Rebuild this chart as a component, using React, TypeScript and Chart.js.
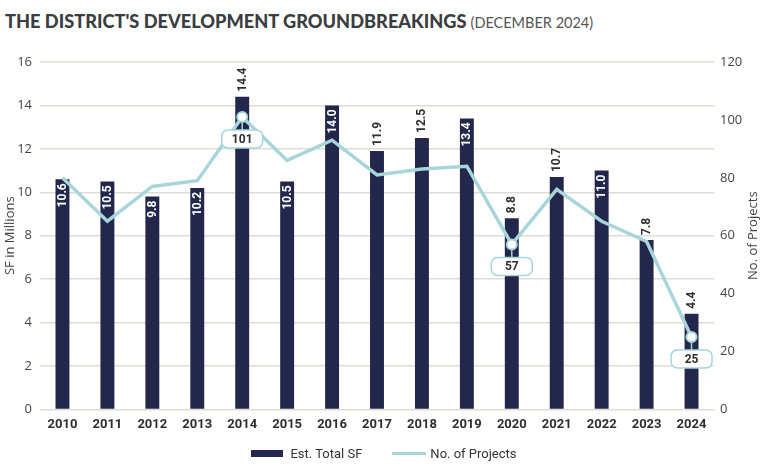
import React, { useEffect, useRef } from "react";
import { Chart, registerables } from "chart.js";

Chart.register(...registerables);

const years = ["2010","2011","2012","2013","2014","2015","2016","2017","2018","2019","2020","2021","2022","2023","2024"];
const totalSF = [10.6, 10.5, 9.8, 10.2, 14.4, 10.5, 14.0, 11.9, 12.5, 13.4, 8.8, 10.7, 11.0, 7.8, 4.4];
const projects = [80, 65, 77, 79, 101, 86, 93, 81, 83, 84, 57, 76, 65, 58, 25];
const leftTicks = [0, 2, 4, 6, 8, 10, 12, 14, 16];
const rightTicks = [0, 20, 40, 60, 80, 100, 120];
const calloutYears = ["2014", "2020", "2024"];
const insideLabelYears = ["2010","2011","2012","2013","2015","2016","2019","2022"];

const NAVY = "#22274b";
const TEAL = "#a8d5da";
const GRID = "#dddcd5";
const TICK = "#454545";

const labelPlugin = {
  id: "valueLabels",
  afterDatasetsDraw(chart: any) {
    const ctx = chart.ctx;
    const barMeta = chart.getDatasetMeta(1);
    const lineMeta = chart.getDatasetMeta(0);
    ctx.save();
    ctx.font = "bold 12px Roboto, 'DejaVu Sans', sans-serif";
    barMeta.data.forEach((bar: any, i: number) => {
      const txt = totalSF[i].toFixed(1);
      const inside = insideLabelYears.includes(years[i]);
      ctx.save();
      ctx.translate(bar.x, bar.y);
      ctx.rotate(-Math.PI / 2);
      ctx.textBaseline = "middle";
      if (inside) {
        ctx.fillStyle = "#ffffff";
        ctx.textAlign = "right";
        ctx.fillText(txt, -4, 0.5);
      } else {
        ctx.fillStyle = "#2e2e2e";
        ctx.textAlign = "left";
        ctx.fillText(txt, 5, 0.5);
      }
      ctx.restore();
    });
    lineMeta.data.forEach((pt: any, i: number) => {
      if (!calloutYears.includes(years[i])) return;
      const bw = 41, bh = 18, r = 7;
      const bx = pt.x - bw / 2;
      const by = pt.y + 13;
      ctx.strokeStyle = TEAL;
      ctx.lineWidth = 1.5;
      ctx.beginPath();
      ctx.moveTo(pt.x, pt.y + 5);
      ctx.lineTo(pt.x, by);
      ctx.stroke();
      ctx.beginPath();
      ctx.moveTo(bx + r, by);
      ctx.lineTo(bx + bw - r, by);
      ctx.quadraticCurveTo(bx + bw, by, bx + bw, by + r);
      ctx.lineTo(bx + bw, by + bh - r);
      ctx.quadraticCurveTo(bx + bw, by + bh, bx + bw - r, by + bh);
      ctx.lineTo(bx + r, by + bh);
      ctx.quadraticCurveTo(bx, by + bh, bx, by + bh - r);
      ctx.lineTo(bx, by + r);
      ctx.quadraticCurveTo(bx, by, bx + r, by);
      ctx.closePath();
      ctx.fillStyle = "#ffffff";
      ctx.fill();
      ctx.stroke();
      ctx.fillStyle = "#2e2e2e";
      ctx.textAlign = "center";
      ctx.textBaseline = "middle";
      ctx.font = "bold 12px Roboto, 'DejaVu Sans', sans-serif";
      ctx.fillText(String(projects[i]), pt.x, by + bh / 2 + 0.5);
      ctx.beginPath();
      ctx.arc(pt.x, pt.y, 5, 0, Math.PI * 2);
      ctx.fillStyle = "#ffffff";
      ctx.fill();
      ctx.lineWidth = 2;
      ctx.strokeStyle = TEAL;
      ctx.stroke();
    });
    ctx.restore();
  },
  afterDraw(chart: any) {
    const ctx = chart.ctx;
    const area = chart.chartArea;
    ctx.save();
    ctx.font = "13px 'Open Sans', sans-serif";
    ctx.fillStyle = "#444";
    ctx.textAlign = "center";
    ctx.textBaseline = "middle";
    ctx.translate(753, (area.top + area.bottom) / 2);
    ctx.rotate(-Math.PI / 2);
    ctx.fillText("No. of Projects", 0, 0);
    ctx.restore();
  },
};

export default function App() {
  const ref = useRef<HTMLCanvasElement | null>(null);
  useEffect(() => {
    if (!ref.current) return;
    const chart = new Chart(ref.current, {
      type: "bar",
      data: {
        labels: years,
        datasets: [
          {
            type: "line",
            label: "No. of Projects",
            data: projects,
            yAxisID: "y1",
            borderColor: TEAL,
            backgroundColor: TEAL,
            borderWidth: 3.5,
            pointRadius: 0,
            tension: 0,
            order: 0,
          } as any,
          {
            type: "bar",
            label: "Est. Total SF",
            data: totalSF,
            yAxisID: "y",
            backgroundColor: NAVY,
            borderWidth: 0,
            barPercentage: 0.62,
            categoryPercentage: 0.5,
            order: 1,
          } as any,
        ],
      },
      options: {
        animation: false,
        responsive: false,
        devicePixelRatio: 1,
        layout: { padding: { top: 62, left: 0, right: 26, bottom: 33 } },
        plugins: {
          tooltip: { enabled: false },
          legend: { display: false },
        },
        scales: {
          x: {
            grid: { display: false },
            border: { display: false },
            ticks: {
              color: "#2e2e2e",
              padding: 0,
              font: { family: "Roboto, sans-serif", size: 13, weight: "bold" },
            },
          },
          y: {
            position: "left",
            min: 0,
            max: 16,
            afterBuildTicks: (s: any) => { s.ticks = leftTicks.map((v) => ({ value: v })); },
            afterFit: (s: any) => { s.width = 40; },
            grid: { color: GRID, lineWidth: 1.5, drawTicks: false },
            border: { display: false },
            ticks: {
              color: TICK,
              padding: 8,
              font: { family: "'Open Sans', sans-serif", size: 13 },
            },
            title: {
              display: true,
              text: "SF in Millions",
              color: "#444",
              padding: { top: 2, bottom: 0 },
              font: { family: "'Open Sans', sans-serif", size: 13 },
            },
          },
          y1: {
            position: "right",
            min: 0,
            max: 120,
            afterBuildTicks: (s: any) => { s.ticks = rightTicks.map((v) => ({ value: v })); },
            afterFit: (s: any) => { s.width = 28; },
            grid: { display: false, drawTicks: false },
            border: { display: false },
            ticks: {
              color: TICK,
              padding: 6,
              font: { family: "'Open Sans', sans-serif", size: 13 },
            },
          },
        },
      } as any,
      plugins: [labelPlugin],
    });
    return () => chart.destroy();
  }, []);

  return (
    <div style={{ position: "fixed", left: 0, top: 0, width: 768, height: 466, background: "#fff" }}>
      <div
        style={{
          position: "absolute",
          left: 5,
          top: 10,
          whiteSpace: "nowrap",
          fontFamily: "Lato, 'Open Sans', sans-serif",
          color: "#3b3e41",
          lineHeight: "22px",
        }}
      >
        <span style={{ fontWeight: 900, fontSize: 18.2 }}>THE DISTRICT'S DEVELOPMENT GROUNDBREAKINGS</span>
        <span style={{ fontWeight: 400, fontSize: 14.5, color: "#555", marginLeft: 4 }}>(DECEMBER 2024)</span>
      </div>
      <canvas ref={ref} width={768} height={466} style={{ position: "absolute", left: 0, top: 0 }} />
      <div
        style={{
          position: "absolute",
          left: 0,
          width: 768,
          top: 444,
          height: 18,
          display: "flex",
          justifyContent: "center",
          alignItems: "center",
          fontFamily: "Roboto, sans-serif",
          fontSize: 13,
          color: "#333",
        }}
      >
        <span style={{ display: "inline-block", width: 32, height: 7, background: NAVY, marginRight: 7 }} />
        <span>Est. Total SF</span>
        <span style={{ display: "inline-block", width: 34, height: 3, background: TEAL, marginLeft: 30, marginRight: 4 }} />
        <span>No. of Projects</span>
      </div>
    </div>
  );
}
